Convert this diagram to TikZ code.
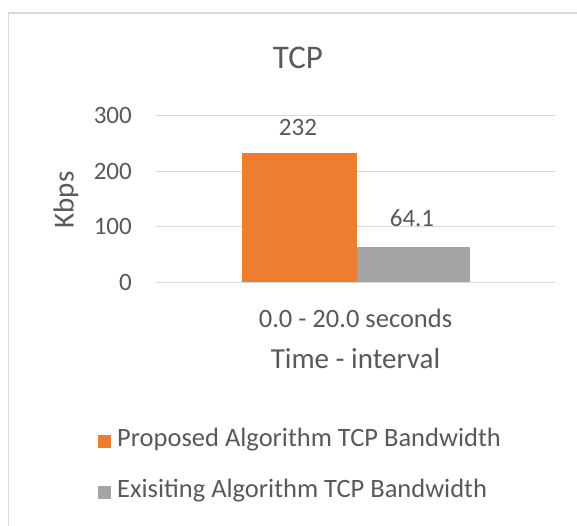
\documentclass[tikz,border=0pt]{standalone}
\usepackage{fontspec}
\setmainfont{Carlito}
\definecolor{barone}{HTML}{ED7D31}
\definecolor{bartwo}{HTML}{A5A5A5}
\definecolor{txt}{HTML}{595959}
\definecolor{gridc}{HTML}{D9D9D9}
\tikzset{
  frame/.style={draw=gridc, line width=1.5pt},
  gridline/.style={draw=gridc, line width=1.2pt},
  lbl/.style={text=txt, inner sep=0pt},
  ticklbl/.style={lbl, font=\fontsize{25}{25}\selectfont, anchor=east},
  datalbl/.style={lbl, font=\fontsize{25}{25}\selectfont},
  keybox/.style={minimum size=13pt, inner sep=0pt},
}
\begin{document}
\begin{tikzpicture}[x=1pt, y=-1pt]
  \useasboundingbox (0,0) rectangle (577,525);
  \fill[white] (0,0) rectangle (577,525);
  % chart frame, running past the right and bottom edges
  \begin{scope}
    \clip (0,0) rectangle (577,525);
    \draw[frame] (8.5,13) rectangle (640,580);
  \end{scope}

  % title
  \node[lbl, font=\fontsize{33}{33}\selectfont] (title) at (298,58) {TCP};

  % value axis: gridlines and tick labels
  \foreach \v/\n in {0/a,100/b,200/c,300/d} {
    \coordinate (gl\n) at (156,{282.3-0.5553*\v});
    \coordinate (gr\n) at (555,{282.3-0.5553*\v});
    \draw[gridline] (gl\n) -- (gr\n);
    \node[ticklbl] (tick\n) at (132,{282.3-0.5553*\v}) {\v};
  }

  % bars
  \fill[barone] (242,282.3) rectangle (356.5,{282.3-0.5553*232}) coordinate (topone);
  \fill[bartwo] (356.5,282.3) rectangle (469.5,{282.3-0.5553*64.1}) coordinate (toptwo);
  \node[datalbl] (valone) at (298,127) {232};
  \node[datalbl] (valtwo) at (412,218) {64.1};

  % axis titles
  \node[lbl, font=\fontsize{29}{29}\selectfont, rotate=90] (ytitle) at (66,200) {Kbps};
  \node[lbl, font=\fontsize{26.5}{26.5}\selectfont] (cat) at (355.5,318) {0.0 - 20.0 seconds};
  \node[lbl, font=\fontsize{29}{29}\selectfont] (xtitle) at (355.5,359) {Time - interval};

  % legend
  \node[keybox, fill=barone] (keyone) at (104,441) {};
  \node[lbl, anchor=west, font=\fontsize{26.5}{26.5}\selectfont] (legone) at (117,440) {Proposed Algorithm TCP Bandwidth};
  \node[keybox, fill=bartwo] (keytwo) at (104,492) {};
  \node[lbl, anchor=west, font=\fontsize{26.5}{26.5}\selectfont] (legtwo) at (117,491) {Exisiting Algorithm TCP Bandwidth};
\end{tikzpicture}
\end{document}
